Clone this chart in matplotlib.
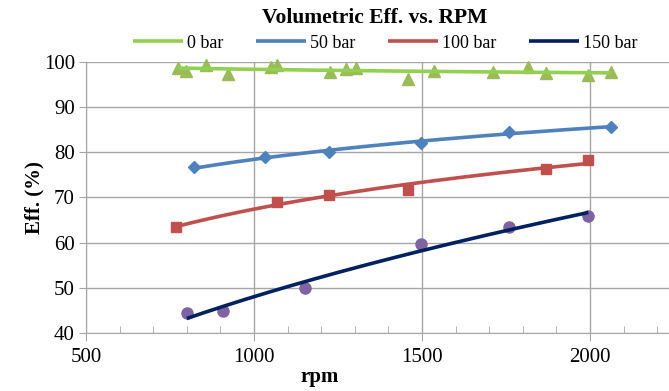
# volumetric efficiency vs. rpm, with trend lines like the spreadsheet version
import numpy as np
import matplotlib.pyplot as plt
from matplotlib.ticker import MultipleLocator

rpm_0 = [775, 798, 857, 923, 1051, 1069, 1226, 1274, 1304, 1458, 1536, 1711,
         1815, 1869, 1994, 2063]
eff_0 = [98.7, 98.0, 99.4, 97.4, 98.9, 99.3, 97.7, 98.4, 98.6, 96.2, 97.9,
         97.7, 98.9, 97.5, 97.2, 97.8]

rpm_50 = [822, 1033, 1224, 1496, 1760, 2062]
eff_50 = [76.7, 78.9, 80.0, 82.1, 84.6, 85.7]

rpm_100 = [768, 1067, 1224, 1459, 1869, 1994]
eff_100 = [63.4, 69.1, 70.6, 71.7, 76.3, 78.3]

rpm_150 = [800, 909, 1152, 1497, 1760, 1995]
eff_150 = [44.5, 44.8, 49.9, 59.7, 63.4, 66.0]

labels = ["0 bar", "50 bar", "100 bar", "150 bar"]


def log_trend(x, y):
    """ y = a + b*ln(x), evaluated over the data range """
    x = np.asarray(x, float)
    b, a = np.polyfit(np.log(x), y, 1)
    xs = np.linspace(x.min(), x.max(), 200)
    return xs, a + b*np.log(xs)


def power_trend(x, y):
    """ y = a*x^b, evaluated over the data range """
    x = np.asarray(x, float)
    b, lna = np.polyfit(np.log(x), np.log(y), 1)
    xs = np.linspace(x.min(), x.max(), 200)
    return xs, np.exp(lna)*xs**b


plt.rcParams['font.family'] = ['Liberation Serif', 'DejaVu Serif']

fig = plt.figure(figsize=(6.69, 3.91), dpi=100)
ax = fig.add_axes([86/669, 58/391, 583/669, 271/391])

series = [
    (rpm_0, eff_0, log_trend, '^', '#9BBB59', '#92D050'),
    (rpm_50, eff_50, log_trend, 'D', '#4F81BD', '#4F81BD'),
    (rpm_100, eff_100, log_trend, 's', '#C0504D', '#C0504D'),
    (rpm_150, eff_150, power_trend, 'o', '#8064A2', '#002060'),
]
msize = {'^': 8, 'D': 6.5, 's': 7.5, 'o': 8}

for (x, y, trend, mk, mcol, lcol), lab in zip(series, labels):
    ax.plot(x, y, ls='none', marker=mk, ms=msize[mk], color=mcol,
            mec=mcol, clip_on=False, zorder=3)
    xs, ys = trend(x, y)
    ax.plot(xs, ys, '-', color=lcol, lw=2.6, label=lab, zorder=4,
            solid_capstyle='butt')

ax.set_xlim(500, 2235)
ax.set_ylim(40, 100)
ax.xaxis.set_major_locator(MultipleLocator(500))
ax.xaxis.set_minor_locator(MultipleLocator(100))
ax.yaxis.set_major_locator(MultipleLocator(10))

ax.grid(True, which='major', color='#A6A6A6', lw=1.0)
ax.set_axisbelow(True)
for s in ['top', 'right']:
    ax.spines[s].set_visible(False)
for s in ['left', 'bottom']:
    ax.spines[s].set_color('#A6A6A6')

ax.tick_params(axis='x', which='major', direction='out', length=6,
               color='#A6A6A6', labelsize=15, pad=5)
ax.tick_params(axis='x', which='minor', direction='in', length=5,
               color='#A6A6A6')
ax.tick_params(axis='y', which='major', direction='out', length=5,
               color='#A6A6A6', labelsize=15, pad=3)

ax.set_xlabel("rpm", fontsize=15, fontweight='bold')
ax.xaxis.set_label_coords((320 - 86)/583, -0.125)
ax.set_ylabel("Eff. (%)", fontsize=15, fontweight='bold')
ax.yaxis.set_label_coords(-0.072, 0.5)

fig.text(375/669, 1 - 18/391, "Volumetric Eff. vs. RPM", ha='center',
         va='center', fontsize=15.5, fontweight='bold')
fig.legend(loc='center', bbox_to_anchor=(385/669, 1 - 43/391), ncol=4,
           frameon=False, fontsize=13, handlelength=2.8, handletextpad=0.2,
           columnspacing=1.8, borderaxespad=0)

fig.savefig("out.png", dpi=100)
